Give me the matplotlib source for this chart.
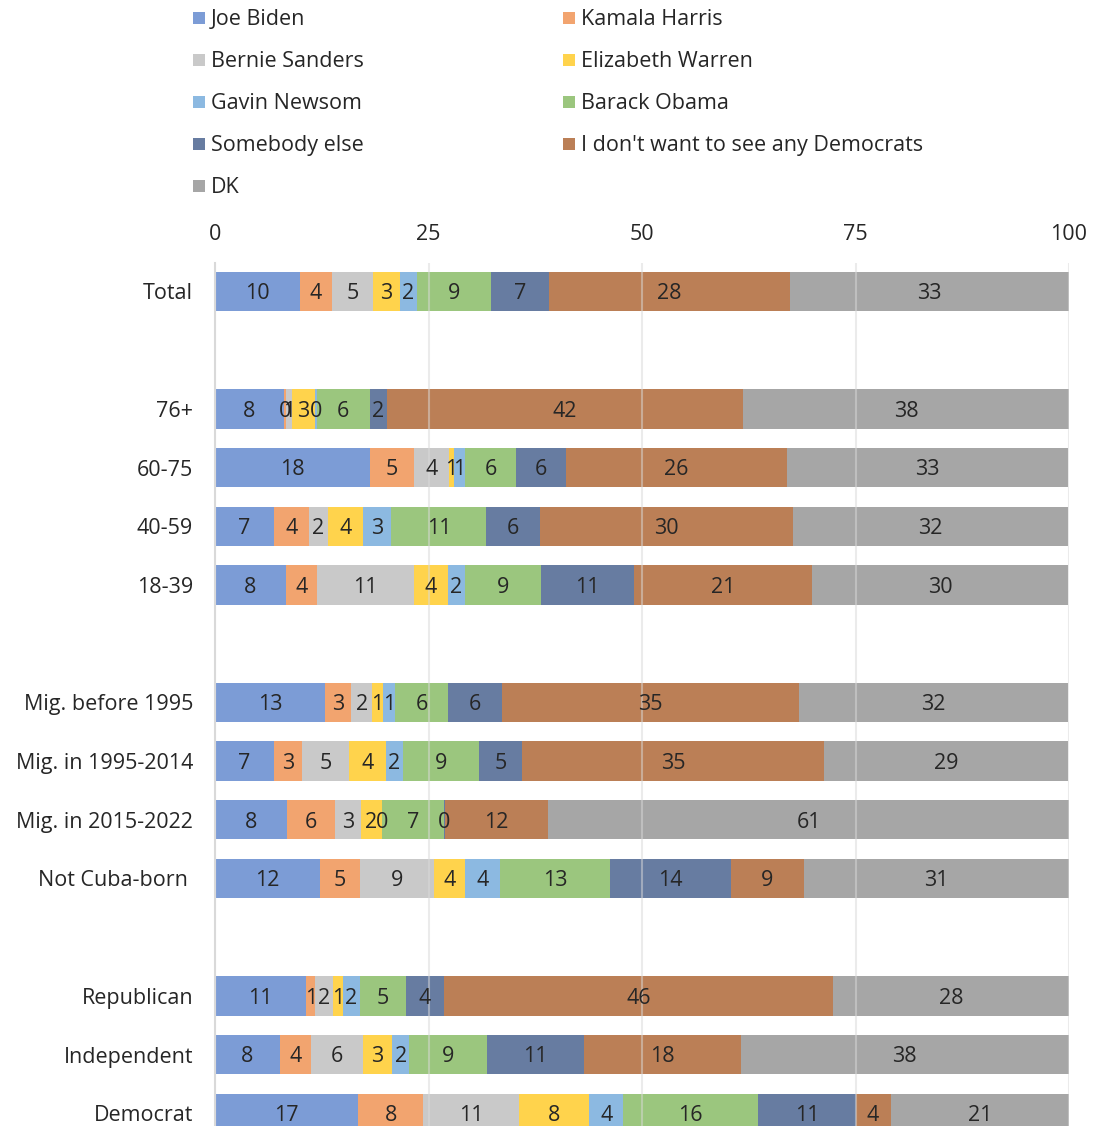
import matplotlib
matplotlib.use("Agg")
import matplotlib.pyplot as plt
from matplotlib.patches import Rectangle
import numpy as np

plt.rcParams["font.family"] = ["Open Sans", "DejaVu Sans"]

categories = ["Total",
              "76+", "60-75", "40-59", "18-39",
              "Mig. before 1995", "Mig. in 1995-2014", "Mig. in 2015-2022", "Not Cuba-born ",
              "Republican", "Independent", "Democrat"]
# row slots (blank slots separate the groups)
slots = [0, 2, 3, 4, 5, 7, 8, 9, 10, 12, 13, 14]

series = ["Joe Biden", "Kamala Harris", "Bernie Sanders", "Elizabeth Warren",
          "Gavin Newsom", "Barack Obama", "Somebody else",
          "I don't want to see any Democrats", "DK"]

joe_biden     = [10.0, 8.08, 18.2, 6.9, 8.3, 12.9, 6.9, 8.4, 12.3, 10.66, 7.6, 16.8]
kamala_harris = [3.67, 0.23, 5.1, 4.1, 3.7, 3.04, 3.3, 5.6, 4.7, 1.09, 3.6, 7.6]
bernie        = [4.84, 0.7, 4.06, 2.19, 11.3, 2.46, 5.47, 3.1, 8.6, 2.1, 6.1, 11.2]
warren        = [3.13, 2.7, 0.6, 4.17, 4.0, 1.29, 4.3, 2.4, 3.7, 1.1, 3.4, 8.2]
newsom        = [2.03, 0.2, 1.3, 3.3, 1.94, 1.44, 2.03, 0.1, 4.1, 2.03, 2.06, 4.0]
obama         = [8.63, 6.2, 6.0, 11.1, 8.95, 6.1, 8.93, 7.2, 12.8, 5.39, 9.1, 15.8]
somebody_else = [6.83, 2.0, 5.85, 6.24, 10.9, 6.4, 5.0, 0.1, 14.2, 4.45, 11.4, 11.4]
no_democrats  = [28.2, 41.7, 25.9, 29.7, 20.8, 34.7, 35.4, 12.1, 8.55, 45.6, 18.3, 4.1]
dont_know     = [32.7, 38.3, 32.9, 32.2, 30.0, 31.6, 28.6, 61.0, 31.0, 27.6, 38.4, 20.9]

values = [joe_biden, kamala_harris, bernie, warren, newsom, obama,
          somebody_else, no_democrats, dont_know]

colors = ["#7C9CD6", "#F2A46F", "#C9C9C9", "#FFD34C", "#8CB9E1",
          "#9BC67E", "#677CA1", "#BB7F56", "#A6A6A6"]

xticks = [0, 25, 50, 75, 100]

W, H = 1093, 1126
fig = plt.figure(figsize=(W / 100, H / 100), dpi=100)

ax_left, ax_right = 215, 1069
ax_top = 263
slot_px = 58.7
first_center = 291.5
ax_bottom = first_center + 14.5 * slot_px
ax = fig.add_axes([ax_left / W, 1 - ax_bottom / H,
                   (ax_right - ax_left) / W, (ax_bottom - ax_top) / H])

text_color = "#262626"
fs = 15.5

left = np.zeros(len(categories))
for vals, col in zip(values, colors):
    vals = np.asarray(vals)
    ax.barh(slots, vals, left=left, height=0.67, color=col,
            edgecolor="none", zorder=2)
    for y, v, l in zip(slots, vals, left):
        ax.text(l + v / 2, y + 0.04, f"{v:.0f}", ha="center", va="center",
                fontsize=fs, color=text_color, zorder=4)
    left += vals

ax.set_xlim(0, 100)
ax.set_ylim(14.5, -(first_center - ax_top) / slot_px)
ax.set_xticks(xticks)
ax.set_xticklabels([str(t) for t in xticks])
ax.xaxis.tick_top()
ax.tick_params(axis="x", length=0, pad=13, labelsize=fs, labelcolor=text_color)
ax.set_yticks(slots)
ax.set_yticklabels(categories)
ax.tick_params(axis="y", length=0, pad=15.8, labelsize=fs, labelcolor=text_color)

ax.grid(axis="x", color="#D9D9D9", linewidth=1.5, alpha=0.5, zorder=3)
ax.set_axisbelow(False)
for s in ["top", "right", "bottom"]:
    ax.spines[s].set_visible(False)
ax.spines["left"].set_color("#D9D9D9")
ax.spines["left"].set_linewidth(1.5)

# legend laid out row by row in two columns
col_x = [193, 563]
row_y0, row_dy = 18, 42
sq = 12
for i, (name, col) in enumerate(zip(series, colors)):
    r, c = divmod(i, 2)
    x = col_x[c]
    y = row_y0 + r * row_dy
    fig.add_artist(Rectangle((x / W, 1 - (y + sq / 2) / H), sq / W, sq / H,
                             transform=fig.transFigure, facecolor=col,
                             edgecolor="none"))
    fig.text((x + 18) / W, 1 - (y + 1.5) / H, name, ha="left", va="center",
             fontsize=fs, color=text_color)

fig.savefig("out.png", dpi=100)
